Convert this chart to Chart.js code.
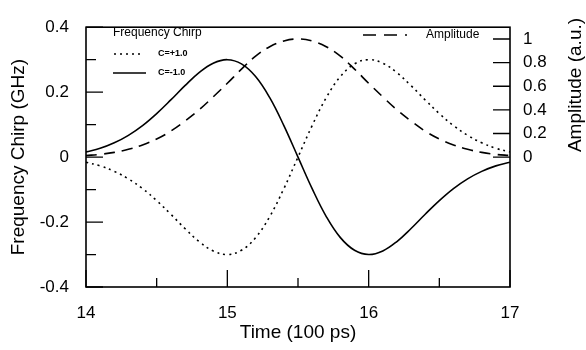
<!DOCTYPE html>
<html>
<head>
<meta charset="utf-8">
<script src="https://cdn.jsdelivr.net/npm/chart.js@4.4.1/dist/chart.umd.min.js"></script>
<style>
	body { margin: 0; background: #fff; }
	#wrap { width: 586px; height: 350px; }
</style>
</head>
<body>
<div id="wrap"><canvas id="myChart" width="586" height="350"></canvas></div>
<script>
let tiempo = [14.0, 14.1, 14.2, 14.3, 14.4, 14.5, 14.6, 14.7, 14.8, 14.9, 15.0, 15.1, 15.2, 15.3, 15.4, 15.5,
	15.6, 15.7, 15.8, 15.9, 16.0, 16.1, 16.2, 16.3, 16.4, 16.5, 16.6, 16.7, 16.8, 16.9, 17.0];
// C=+1.0 (dotted)
let chirpPos = [-0.016, -0.027, -0.044, -0.067, -0.097, -0.134, -0.176, -0.220, -0.260, -0.289, -0.300, -0.287, -0.248, -0.183, -0.097, 0,
	0.097, 0.183, 0.248, 0.287, 0.300, 0.289, 0.260, 0.220, 0.176, 0.134, 0.097, 0.067, 0.044, 0.027, 0.016];
// C=-1.0 (solid)
let chirpNeg = [0.016, 0.027, 0.044, 0.067, 0.097, 0.134, 0.176, 0.220, 0.260, 0.289, 0.300, 0.287, 0.248, 0.183, 0.097, 0,
	-0.097, -0.183, -0.248, -0.287, -0.300, -0.289, -0.260, -0.220, -0.176, -0.134, -0.097, -0.067, -0.044, -0.027, -0.016];
let amplitud = [0.013, 0.023, 0.040, 0.066, 0.103, 0.153, 0.220, 0.305, 0.400, 0.510, 0.625, 0.745, 0.855, 0.935, 0.983, 1.0,
	0.983, 0.935, 0.855, 0.745, 0.625, 0.510, 0.400, 0.305, 0.220, 0.153, 0.103, 0.066, 0.040, 0.023, 0.013];

let ticksX = [14, 15, 16, 17];
let ticksXMenor = [14.5, 15.5, 16.5];
let ticksChirp = [0.4, 0.2, 0, -0.2, -0.4];
let ticksChirpMenor = [0.3, 0.1, -0.1, -0.3];
let ticksAmp = [0, 0.2, 0.4, 0.6, 0.8, 1];

let fuente = "Arial, 'Liberation Sans', sans-serif";

function puntos(serie) {
	return tiempo.map((t, i) => {
		return { x: t, y: serie[i] };
	});
}

let marco = {
	id: "marco",
	afterDraw(chart) {
		let ctx = chart.ctx;
		let a = chart.chartArea;
		let x = chart.scales.x;
		let y = chart.scales.y;
		let y2 = chart.scales.y2;
		ctx.save();
		ctx.strokeStyle = "#000";
		ctx.lineWidth = 1.6;
		ctx.setLineDash([]);
		ctx.strokeRect(a.left, a.top, a.right - a.left, a.bottom - a.top);

		ctx.lineWidth = 1.3;
		ctx.beginPath();
		ticksX.forEach((v) => {
			let px = x.getPixelForValue(v);
			ctx.moveTo(px, a.bottom);
			ctx.lineTo(px, a.bottom - 17);
		});
		ticksXMenor.forEach((v) => {
			let px = x.getPixelForValue(v);
			ctx.moveTo(px, a.bottom);
			ctx.lineTo(px, a.bottom - 9);
		});
		ticksChirp.forEach((v) => {
			let py = y.getPixelForValue(v);
			ctx.moveTo(a.left, py);
			ctx.lineTo(a.left + 17, py);
		});
		ticksChirpMenor.forEach((v) => {
			let py = y.getPixelForValue(v);
			ctx.moveTo(a.left, py);
			ctx.lineTo(a.left + 10, py);
		});
		ticksAmp.forEach((v) => {
			let py = y2.getPixelForValue(v);
			ctx.moveTo(a.right, py);
			ctx.lineTo(a.right - 17, py);
		});
		ctx.stroke();

		// leyendas
		ctx.fillStyle = "#000";
		ctx.textBaseline = "middle";
		ctx.textAlign = "left";
		ctx.font = "12px " + fuente;
		ctx.fillText("Frequency Chirp", 113, 33);
		ctx.fillText("Amplitude", 426, 35);

		ctx.font = "bold 9px " + fuente;
		ctx.fillText("C=+1.0", 158, 54);
		ctx.fillText("C=-1.0", 158, 73);

		ctx.lineWidth = 1.5;
		ctx.setLineDash([2, 4]);
		ctx.beginPath();
		ctx.moveTo(114, 54);
		ctx.lineTo(144, 54);
		ctx.stroke();

		ctx.setLineDash([]);
		ctx.beginPath();
		ctx.moveTo(113, 73);
		ctx.lineTo(146, 73);
		ctx.stroke();

		ctx.setLineDash([13, 8]);
		ctx.beginPath();
		ctx.moveTo(363, 35);
		ctx.lineTo(407, 35);
		ctx.stroke();

		// titulo eje derecho
		ctx.setLineDash([]);
		ctx.font = "19px " + fuente;
		ctx.textAlign = "center";
		ctx.translate(576, 85);
		ctx.rotate(-Math.PI / 2);
		ctx.fillText("Amplitude (a.u.)", 0, 0);
		ctx.restore();
	},
};

let ctx = document.getElementById("myChart");
let myChart = new Chart(ctx, {
	type: "line",
	data: {
		datasets: [
			{
				label: "C=+1.0",
				data: puntos(chirpPos),
				borderColor: "#000",
				borderWidth: 1.6,
				borderDash: [2, 4],
				pointRadius: 0,
				tension: 0.4,
				yAxisID: "y",
			},
			{
				label: "C=-1.0",
				data: puntos(chirpNeg),
				borderColor: "#000",
				borderWidth: 1.6,
				pointRadius: 0,
				tension: 0.4,
				yAxisID: "y",
			},
			{
				label: "Amplitude",
				data: puntos(amplitud),
				borderColor: "#000",
				borderWidth: 1.6,
				borderDash: [11, 7],
				pointRadius: 0,
				tension: 0.4,
				yAxisID: "y2",
			},
		],
	},
	plugins: [marco],
	options: {
		responsive: false,
		animation: false,
		layout: { padding: { top: 20, left: 0, right: 0, bottom: 0 } },
		plugins: {
			legend: { display: false },
			tooltip: { enabled: false },
		},
		scales: {
			x: {
				type: "linear",
				min: 14,
				max: 17,
				afterBuildTicks: (s) => {
					s.ticks = ticksX.map((v) => ({ value: v }));
				},
				afterFit: (s) => {
					s.height = 63;
				},
				grid: { display: false, drawTicks: false },
				border: { display: false },
				ticks: {
					color: "#000",
					padding: 16,
					font: { family: fuente, size: 17 },
				},
				title: {
					display: true,
					text: "Time (100 ps)",
					color: "#000",
					font: { family: fuente, size: 19 },
					padding: { top: 0, bottom: 6 },
				},
			},
			y: {
				position: "left",
				min: -0.4,
				max: 0.4,
				afterBuildTicks: (s) => {
					s.ticks = ticksChirp.map((v) => ({ value: v }));
				},
				afterFit: (s) => {
					s.width = 86;
				},
				grid: { display: false, drawTicks: false },
				border: { display: false },
				ticks: {
					color: "#000",
					padding: 17,
					font: { family: fuente, size: 17 },
				},
				title: {
					display: true,
					text: "Frequency Chirp (GHz)",
					color: "#000",
					font: { family: fuente, size: 19 },
					padding: { top: 7, bottom: 0 },
				},
			},
			y2: {
				position: "right",
				min: -1.1,
				max: 1.1,
				afterBuildTicks: (s) => {
					s.ticks = ticksAmp.map((v) => ({ value: v }));
				},
				afterFit: (s) => {
					s.width = 76;
				},
				grid: { display: false, drawTicks: false },
				border: { display: false },
				ticks: {
					color: "#000",
					padding: 13,
					font: { family: fuente, size: 17 },
					callback: (v) => String(v),
				},
			},
		},
	},
});
</script>
</body>
</html>
